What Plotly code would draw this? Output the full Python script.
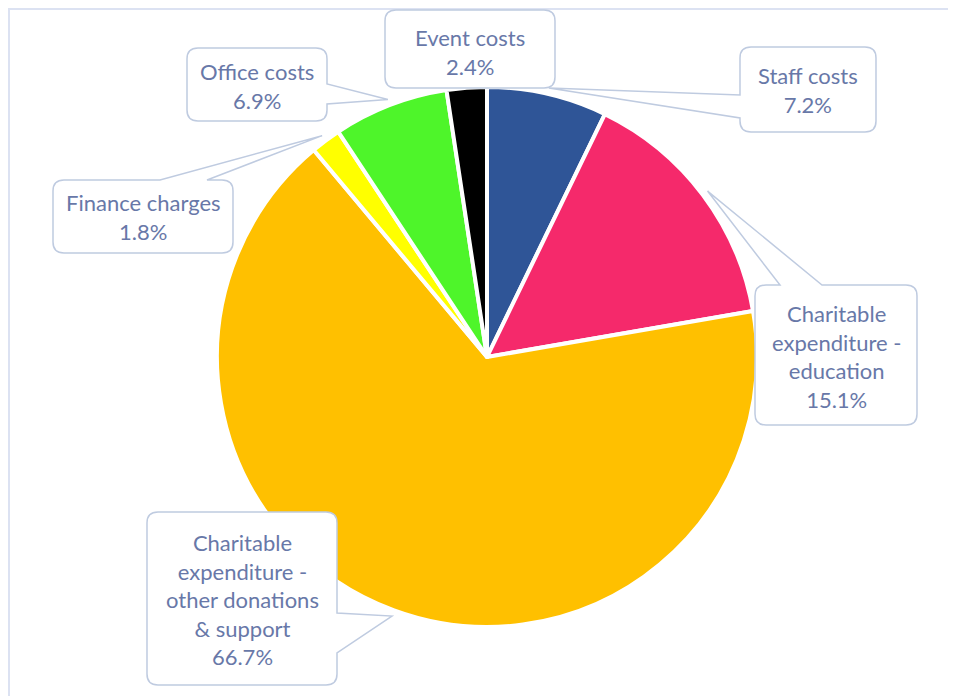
import math
import plotly.graph_objects as go

# page has an 8px body margin; figure is drawn from (8, 8)
OFF = 8
W, H = 948, 688

# ---- data ----
categories = ["Staff costs", "Charitable expenditure - education",
              "Charitable expenditure - other donations & support",
              "Finance charges", "Office costs", "Event costs"]
label_text = ["Staff costs", "Charitable<br>expenditure -<br>education",
              "Charitable<br>expenditure -<br>other donations<br>&amp; support",
              "Finance charges", "Office costs", "Event costs"]
values = [7.2, 15.1, 66.7, 1.8, 6.9, 2.4]
colors = ["#2F5597", "#F5296B", "#FFC000", "#FFFF00", "#4EF52A", "#000000"]

# ---- layout geometry (screen pixels) ----
CX, CY, R = 487, 357, 270
R_TIP = 276
# callout boxes: (x0, y0, x1, y1, side, base0, base1, text_cx, text_cy)
boxes = [
    (740, 47, 876, 132, "left", 95, 118, 808, 90),
    (755, 285, 917, 425, "top", 780, 822, 836, 356),
    (147, 512, 337, 685, "right", 613, 653, 242, 599),
    (53, 180, 233, 253, "top", 160, 207, 143, 217),
    (187, 48, 327, 121, "right", 84, 104, 257, 86),
    (385, 10, 555, 88, None, 0, 0, 470, 52),
]

TEXT_COLOR = "#6878A8"
BORDER = "#BFCBE0"


def px(x):
    return (x - OFF) / W


def py(y):
    return 1 - (y - OFF) / H


def callout_path(x0, y0, x1, y1, side, b0, b1, tip, r=11):
    pts = []

    def M(x, y):
        pts.append(f"M{px(x):.5f},{py(y):.5f}")

    def L(x, y):
        pts.append(f"L{px(x):.5f},{py(y):.5f}")

    def Q(cx_, cy_, x, y):
        pts.append(f"Q{px(cx_):.5f},{py(cy_):.5f} {px(x):.5f},{py(y):.5f}")

    tx, ty = tip
    M(x0 + r, y0)
    if side == "top":
        L(b0, y0); L(tx, ty); L(b1, y0)
    L(x1 - r, y0)
    Q(x1, y0, x1, y0 + r)
    if side == "right":
        L(x1, b0); L(tx, ty); L(x1, b1)
    L(x1, y1 - r)
    Q(x1, y1, x1 - r, y1)
    if side == "bottom":
        L(b1, y1); L(tx, ty); L(b0, y1)
    L(x0 + r, y1)
    Q(x0, y1, x0, y1 - r)
    if side == "left":
        L(x0, b1); L(tx, ty); L(x0, b0)
    L(x0, y0 + r)
    Q(x0, y0, x0 + r, y0)
    pts.append("Z")
    return " ".join(pts)


total = sum(values)
fig = go.Figure()
fig.add_trace(go.Pie(
    labels=categories, values=values, sort=False, direction="clockwise",
    rotation=0, textinfo="none", hole=0,
    marker=dict(colors=colors, line=dict(color="white", width=4)),
    domain=dict(x=[px(CX - R), px(CX + R)], y=[py(CY + R), py(CY - R)]),
    showlegend=False,
))

shapes = [dict(type="rect", xref="paper", yref="paper",
               x0=px(9), x1=px(949), y0=py(705), y1=py(9),
               line=dict(color="#DCE2F2", width=2), fillcolor="rgba(0,0,0,0)",
               layer="below")]
annotations = []
cum = 0
for i, v in enumerate(values):
    mid = (cum + v / 2) / total * 2 * math.pi
    cum += v
    tip = (CX + R_TIP * math.sin(mid), CY - R_TIP * math.cos(mid))
    x0, y0, x1, y1, side, b0, b1, tcx, tcy = boxes[i]
    shapes.append(dict(type="path", xref="paper", yref="paper",
                       path=callout_path(x0, y0, x1, y1, side, b0, b1, tip),
                       line=dict(color=BORDER, width=1.5), fillcolor="white",
                       layer="above"))
    annotations.append(dict(
        x=px(tcx), y=py(tcy), xref="paper", yref="paper",
        text=f"{label_text[i]}<br>{v:.1f}%", showarrow=False,
        xanchor="center", yanchor="middle", align="center",
        font=dict(family="Lato", size=22, color=TEXT_COLOR)))

fig.update_layout(
    width=W, height=H, margin=dict(l=0, r=0, t=0, b=0),
    paper_bgcolor="white", plot_bgcolor="white",
    shapes=shapes, annotations=annotations,
)
fig.write_html("out.html")
